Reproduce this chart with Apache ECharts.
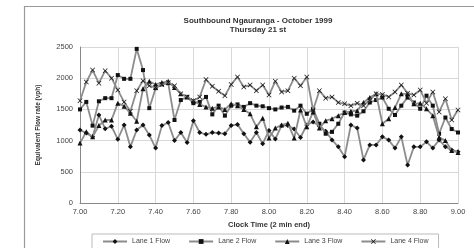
<!DOCTYPE html>
<html><head><meta charset="utf-8">
<script src="https://cdn.jsdelivr.net/npm/echarts@6/dist/echarts.min.js"></script>
<style>html,body{margin:0;padding:0;background:#fff}#c{width:474px;height:248px}</style>
</head><body><div id="c"></div>
<script>
// Clock time (decimal hours, 2-minute interval ends) 7.00 .. 9.00
const times = Array.from({length: 61}, (_, i) => 7 + i / 30);
const xTicks = ['7.00','7.20','7.40','7.60','7.80','8.00','8.20','8.40','8.60','8.80','9.00'];
const yTicks = [0, 500, 1000, 1500, 2000, 2500];
const seriesNames = ['Lane 1 Flow','Lane 2 Flow','Lane 3 Flow','Lane 4 Flow'];

const lane1 = [1170,1120,1060,1410,1190,1230,1020,1250,900,1170,1250,1090,880,1240,1290,1000,1130,970,1320,1130,1100,1130,1120,1110,1240,1260,1110,975,1130,950,1160,1025,1240,1240,1185,1050,1250,1300,1230,1150,1010,900,740,1250,1200,690,930,930,1060,1010,880,1060,610,900,900,980,880,1010,900,850,820];
const lane2 = [1500,1620,1240,1630,1680,1680,2050,1990,1990,2470,2130,1520,1840,1900,1920,1330,1650,1700,1600,1620,1700,1420,1560,1400,1560,1580,1540,1600,1560,1550,1520,1500,1530,1540,1480,1560,1430,1510,1270,1110,1140,1270,1450,1420,1400,1470,1610,1650,1690,1510,1410,1560,1690,1610,1510,1720,1560,1110,1370,1185,1130];
const lane3 = [960,1140,1060,1240,1330,1330,1600,1550,1440,1310,1830,1950,1900,1930,1950,1850,1750,1700,1640,1580,1540,1520,1540,1500,1590,1560,1500,1430,1220,1360,1040,1200,1250,1280,1040,1490,1220,1460,1200,1320,1350,1400,1450,1470,1480,1610,1690,1750,1270,1350,1530,1750,1750,1590,1600,1510,1400,1055,1000,840,810];
const lane4 = [1640,1940,2130,1920,2120,2000,1810,1620,1470,1800,1960,1880,1850,1900,1930,1880,1750,1700,1640,1700,1980,1870,1790,1720,1900,2020,1860,1890,1800,1890,1730,1950,1780,1800,2000,1880,2020,1490,1800,1680,1700,1610,1590,1560,1600,1560,1650,1750,1740,1700,1780,1890,1760,1730,1810,1600,1780,1460,1670,1330,1490];

const lanes = [lane1, lane2, lane3, lane4];
const symbols = ['diamond', 'rect', 'triangle', 'path://M0,1L1,0L5,4L9,0L10,1L6,5L10,9L9,10L5,6L1,10L0,9L4,5Z'];
const symSizes = [5, 4, 5, 5];

const chart = echarts.init(document.getElementById('c'), null, {renderer: 'canvas'});
const font = 'Liberation Sans, Arial, sans-serif';
chart.setOption({
  animation: false,
  backgroundColor: '#fff',
  graphic: [{
    type: 'rect', left: 22, top: 4, shape: {width: 470, height: 260},
    style: {fill: 'none', stroke: '#9a9a9a', lineWidth: 1.2}, silent: true
  }],
  title: {
    text: 'Southbound Ngauranga - October 1999\nThursday 21 st',
    left: 253, top: 11, textAlign: 'center',
    textStyle: {fontFamily: font, fontSize: 8, fontWeight: 'bold', color: '#333', lineHeight: 9}
  },
  grid: {left: 80, right: 16, top: 47, bottom: 45},
  xAxis: {
    type: 'value', min: 7, max: 9, interval: 0.2,
    name: 'Clock Time (2 min end)', nameLocation: 'middle', nameGap: 15,
    nameTextStyle: {fontFamily: font, fontSize: 7.5, fontWeight: 'bold', color: '#333'},
    axisLine: {show: true, lineStyle: {color: '#888'}},
    axisTick: {show: false},
    axisLabel: {fontFamily: font, fontSize: 7.5, color: '#444', margin: 5,
      formatter: v => xTicks[Math.round((v - 7) / 0.2)] || v.toFixed(2)},
    splitLine: {show: true, lineStyle: {color: '#d8d8d8', width: 1}}
  },
  yAxis: {
    type: 'value', min: 0, max: 2500, interval: 500,
    name: 'Equivalent Flow rate (vph)', nameLocation: 'middle', nameGap: 38,
    nameTextStyle: {fontFamily: font, fontSize: 6.5, fontWeight: 'bold', color: '#333'},
    axisLine: {show: true, lineStyle: {color: '#888'}},
    axisTick: {show: false},
    axisLabel: {fontFamily: font, fontSize: 7.5, color: '#444', margin: 7,
      formatter: v => String(yTicks[Math.round(v / 500)] ?? v)},
    splitLine: {show: true, lineStyle: {color: '#d8d8d8', width: 1}}
  },
  legend: {
    left: 92, top: 234, padding: [4, 10, 8, 10],
    borderColor: '#bbb', borderWidth: 1,
    itemWidth: 24, itemHeight: 6, itemGap: 18,
    textStyle: {fontFamily: font, fontSize: 7, color: '#444'},
    data: seriesNames
  },
  series: lanes.map((d, k) => ({
    name: seriesNames[k],
    type: 'line',
    data: d.map((v, i) => [times[i], v]),
    symbol: symbols[k],
    symbolSize: symSizes[k],
    showAllSymbol: true,
    lineStyle: {color: '#8c8c8c', width: 1.8},
    itemStyle: {color: '#111'},
    z: 3 + k
  }))
});
</script></body></html>
